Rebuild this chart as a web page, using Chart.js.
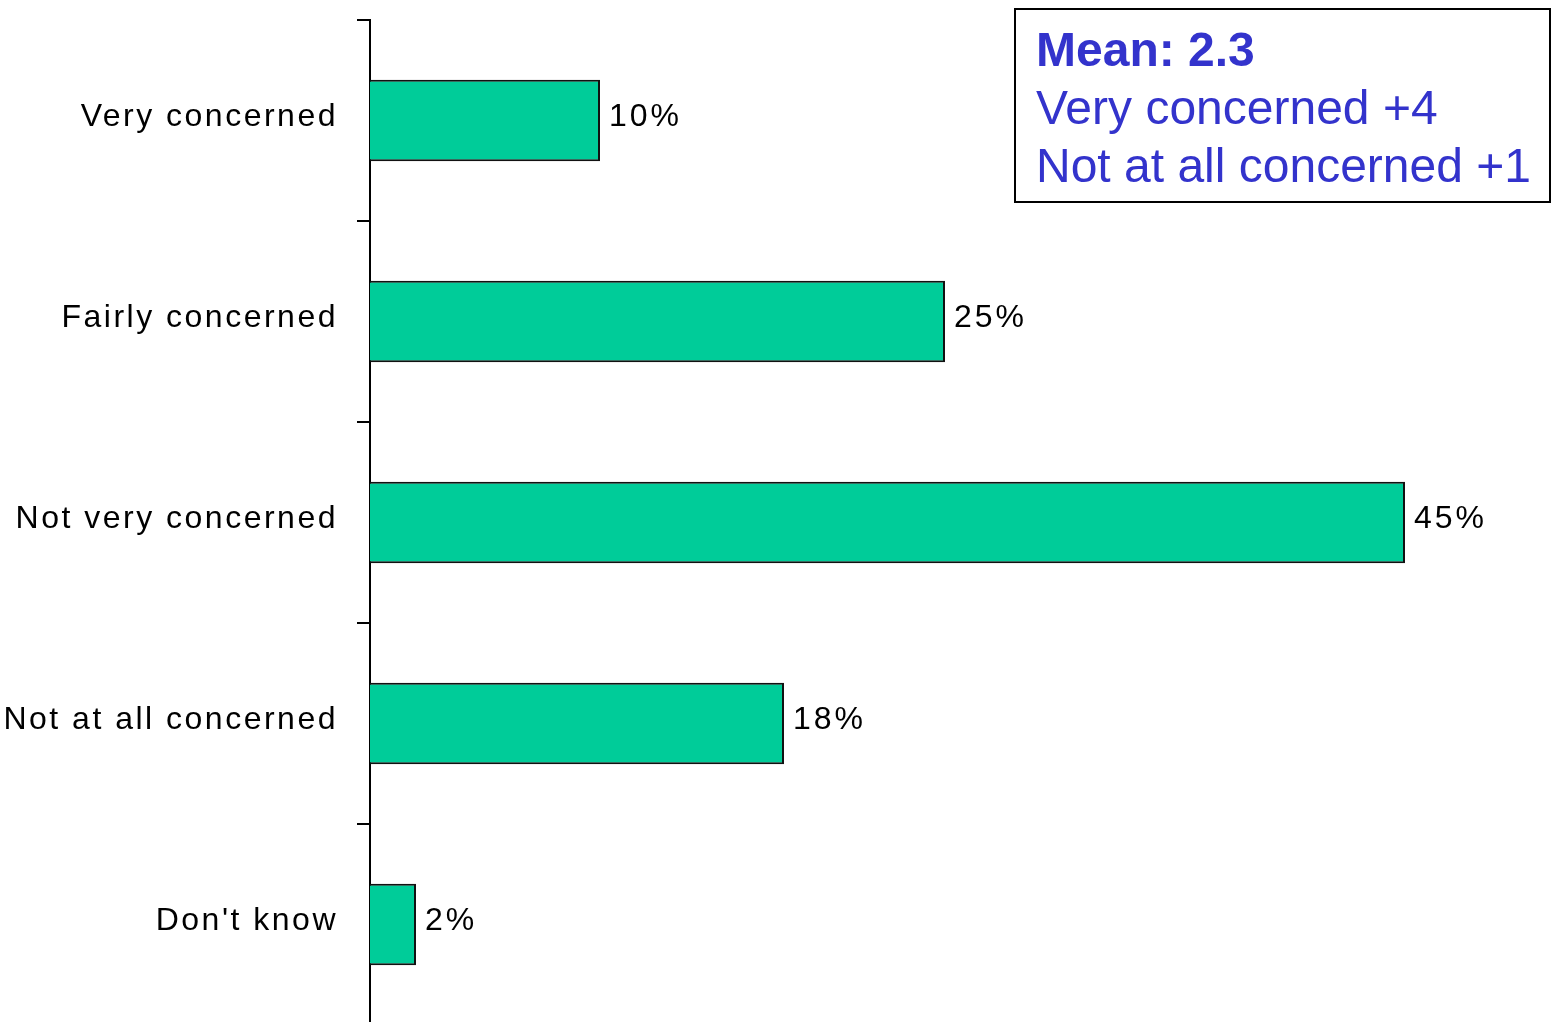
<!DOCTYPE html>
<html>
<head>
<meta charset="utf-8">
<script src="https://cdn.jsdelivr.net/npm/chart.js@4.4.1/dist/chart.umd.min.js"></script>
<style>
  html, body { margin: 0; padding: 0; background: #fff; overflow: hidden; }
  #wrap { position: relative; width: 1560px; height: 1025px; }
</style>
</head>
<body>
<div id="wrap"><canvas id="chart"></canvas></div>
<script>
const categories = ["Very concerned", "Fairly concerned", "Not very concerned", "Not at all concerned", "Don't know"]
const values = [10, 25, 45, 18, 2]
const scoreLines = ["Mean: 2.3", "Very concerned +4", "Not at all concerned +1"]

const FONT = "'Liberation Sans', Arial, sans-serif"

// spaced-out lettering like the original
const spacing = {
  id: "spacing",
  beforeLayout(chart) { chart.ctx.letterSpacing = "2.5px" },
  beforeDraw(chart) { chart.ctx.letterSpacing = "2.5px" }
}

const valueLabels = {
  id: "valueLabels",
  afterDatasetsDraw(chart) {
    const ctx = chart.ctx
    const meta = chart.getDatasetMeta(0)
    ctx.save()
    ctx.letterSpacing = "3px"
    ctx.font = "32px " + FONT
    ctx.fillStyle = "#000"
    ctx.textAlign = "left"
    ctx.textBaseline = "middle"
    meta.data.forEach((bar, i) => {
      ctx.fillText(values[i] + "%", bar.x + 9, bar.y - 3)
    })
    ctx.restore()
  }
}

const scoreBox = {
  id: "scoreBox",
  afterDraw(chart) {
    const ctx = chart.ctx
    ctx.save()
    ctx.letterSpacing = "0px"
    ctx.strokeStyle = "#000"
    ctx.lineWidth = 2
    ctx.strokeRect(1015, 9, 535, 193)
    ctx.fillStyle = "#3333cc"
    ctx.textAlign = "left"
    ctx.textBaseline = "alphabetic"
    const baselines = [66, 124, 182]
    scoreLines.forEach((line, i) => {
      ctx.font = (i === 0 ? "bold " : "") + "48px " + FONT
      ctx.fillText(line, 1036, baselines[i])
    })
    ctx.restore()
  }
}

new Chart(document.getElementById("chart"), {
  type: "bar",
  data: {
    labels: categories,
    datasets: [{
      data: values,
      backgroundColor: "#00cc99",
      borderColor: "#111",
      borderWidth: 2,
      categoryPercentage: 1,
      barPercentage: 0.405
    }]
  },
  options: {
    indexAxis: "y",
    responsive: true,
    maintainAspectRatio: false,
    animation: false,
    layout: { padding: { top: 20, right: 40, bottom: 0, left: 0 } },
    plugins: {
      legend: { display: false },
      tooltip: { enabled: false }
    },
    scales: {
      x: {
        display: false,
        min: 0,
        max: 50
      },
      y: {
        offset: true,
        border: { display: true, color: "#000", width: 2 },
        grid: {
          offset: true,
          drawOnChartArea: false,
          drawTicks: true,
          tickLength: 13,
          color: "#000",
          lineWidth: 2
        },
        ticks: {
          color: "#000",
          font: { family: FONT, size: 32 },
          padding: 19,
          labelOffset: -3
        },
        afterFit(scale) {
          scale.width = 370
          scale.paddingTop = 0
          scale.paddingBottom = 0
        }
      }
    }
  },
  plugins: [spacing, valueLabels, scoreBox]
})
</script>
</body>
</html>
